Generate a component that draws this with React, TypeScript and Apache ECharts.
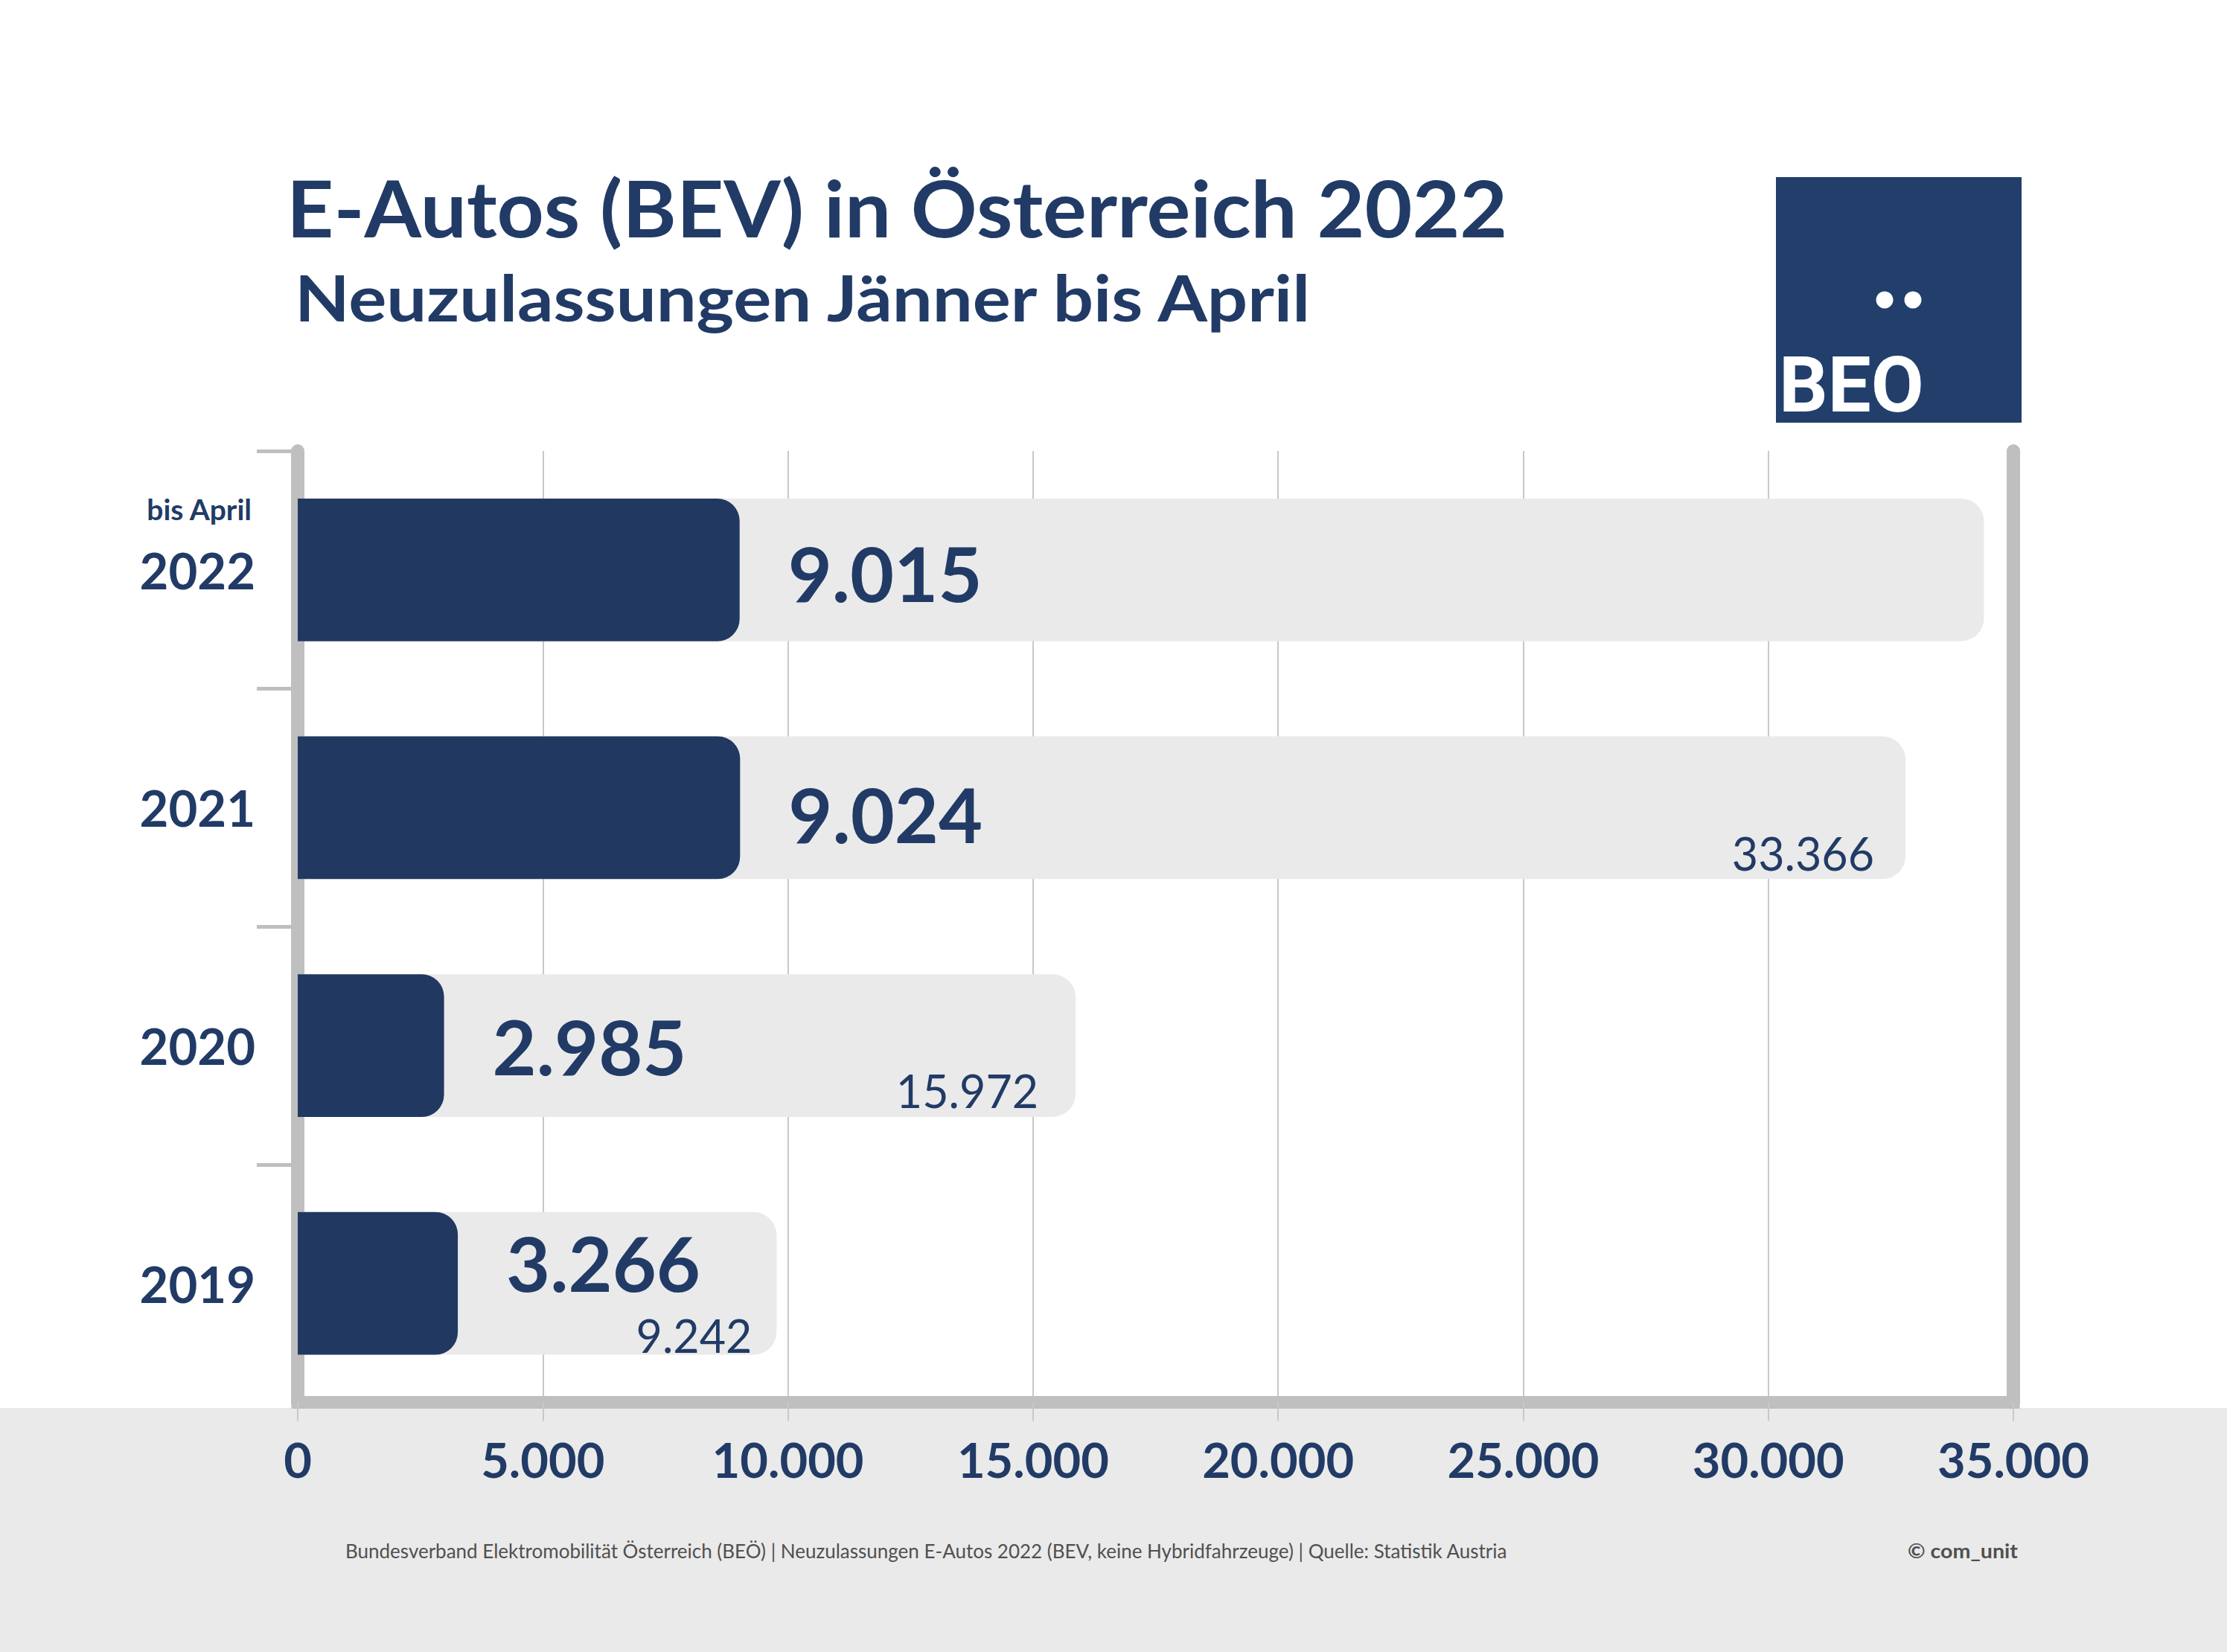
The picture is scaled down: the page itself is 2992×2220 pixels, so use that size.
import React, { useEffect, useRef } from "react";
import * as echarts from "echarts";

// ---- data (bottom to top) ----
const categories = ["2019", "2020", "2021", "2022"];
const categoryNotes: Record<string, string> = { "2022": "bis April" };
const janAprilRegistrations = [3266, 2985, 9024, 9015];
const fullYearLabels: (number | null)[] = [9242, 15972, 33366, null];
const fullYearBarLengths = [9770, 15870, 32800, 34400];
const xMin = 0;
const xMax = 35000;
const xInterval = 5000;

const titleText = "E-Autos (BEV) in Österreich 2022";
const subtitleText = "Neuzulassungen Jänner bis April";
const footnoteText =
  "Bundesverband Elektromobilität Österreich (BEÖ) | Neuzulassungen E-Autos 2022 (BEV, keine Hybridfahrzeuge) | Quelle: Statistik Austria";
const creditText = "© com_unit";
const logoText = "BEO";

// ---- styles ----
const NAVY = "#213b66";
const BAR = "#213961";
const GREYBAR = "#eaeaea";
const FRAME = "#bfbfbf";
const FONT = 'Lato, "Noto Sans", sans-serif';
// per-bar label nudges (px), bottom to top, as placed in the original graphic
const valueLabelDy = [-28, 0, 8, 4];
const totalLabelInset = [33, 50, 42, 46];
const totalLabelDy = [-2, -11, -11, -11];

const fmt = (v: number) =>
  String(Math.round(v)).replace(/\B(?=(\d{3})+(?!\d))/g, ".");

export default function App() {
  const ref = useRef<HTMLDivElement>(null);
  useEffect(() => {
    if (!ref.current) return;
    const chart = echarts.init(ref.current, undefined, { renderer: "svg" });
    const option: any = {
      animation: false,
      backgroundColor: "#ffffff",
      grid: { left: 400, right: 287, top: 606, bottom: 335.5, containLabel: false },
      xAxis: {
        type: "value",
        min: xMin,
        max: xMax,
        interval: xInterval,
        axisLine: { show: true, lineStyle: { color: FRAME, width: 17, cap: "square" } },
        axisTick: { show: true, length: 25, lineStyle: { color: "#c8c8c8", width: 2 } },
        splitLine: { show: true, lineStyle: { color: "#c8c8c8", width: 2 } },
        axisLabel: {
          margin: 44,
          fontSize: 65,
          fontWeight: "bold",
          fontFamily: FONT,
          color: NAVY,
          formatter: (v: number) => fmt(v),
        },
      },
      yAxis: [
        {
          type: "category",
          data: categories,
          position: "left",
          axisLine: { show: true, lineStyle: { color: FRAME, width: 18 } },
          axisTick: {
            show: true,
            length: 55,
            interval: (i: number) => i !== 0,
            lineStyle: { color: FRAME, width: 5 },
          },
          splitLine: { show: false },
          axisLabel: {
            margin: 57,
            formatter: (v: string) =>
              categoryNotes[v]
                ? `{small|${categoryNotes[v]}}\n{big|${v}}\n{pad| }`
                : `{big|${v}}`,
            rich: {
              small: { fontSize: 39, fontWeight: "bold", fontFamily: FONT, color: NAVY, lineHeight: 82, align: "right", padding: [0, 5, 0, 0] },
              big: { fontSize: 67, fontWeight: "bold", fontFamily: FONT, color: NAVY, lineHeight: 82, align: "right" },
              pad: { fontSize: 10, lineHeight: 82 },
            },
          },
        },
        {
          type: "category",
          data: categories,
          position: "right",
          axisLine: { show: true, lineStyle: { color: FRAME, width: 18 } },
          axisTick: { show: false },
          axisLabel: { show: false },
          splitLine: { show: false },
        },
      ],
      series: [
        {
          type: "bar",
          yAxisIndex: 0,
          data: fullYearBarLengths.map((v, i) => ({
            value: v,
            label: { offset: [-totalLabelInset[i], totalLabelDy[i]] },
          })),
          barWidth: "60%",
          barGap: "-100%",
          itemStyle: { color: GREYBAR, borderRadius: [0, 31, 31, 0] },
          label: {
            show: true,
            position: "insideBottomRight",
            distance: 0,
            fontSize: 61,
            lineHeight: 48,
            fontFamily: FONT,
            color: NAVY,
            formatter: (p: any) => {
              const v = fullYearLabels[p.dataIndex];
              return v == null ? "" : fmt(v);
            },
          },
          silent: true,
        },
        {
          type: "bar",
          yAxisIndex: 0,
          data: janAprilRegistrations.map((v, i) => ({
            value: v,
            label: { offset: [0, valueLabelDy[i]] },
          })),
          barWidth: "60%",
          barGap: "-100%",
          itemStyle: { color: BAR, borderRadius: [0, 30, 30, 0] },
          label: {
            show: true,
            position: "right",
            distance: 65,
            fontSize: 102,
            lineHeight: 80,
            fontWeight: "bold",
            fontFamily: FONT,
            color: NAVY,
            formatter: (p: any) => fmt(p.value),
          },
          silent: true,
        },
      ],
      graphic: [
        { type: "rect", z: -1, shape: { x: 0, y: 1892, width: 2992, height: 328 }, style: { fill: "#eaeaea" } },
        {
          type: "text", x: 385, y: 278, scaleX: 1.04,
          style: { text: titleText, x: 0, y: 0, fill: NAVY, fontSize: 106, fontWeight: "bold", fontFamily: FONT, align: "left", verticalAlign: "middle" },
        },
        {
          type: "text", x: 396, y: 398, scaleX: 1.1,
          style: { text: subtitleText, x: 0, y: 0, fill: NAVY, fontSize: 87, fontWeight: "bold", fontFamily: FONT, align: "left", verticalAlign: "middle" },
        },
        {
          type: "text", x: 464, y: 2084, scaleX: 0.963,
          style: { text: footnoteText, x: 0, y: 0, fill: "#505050", fontSize: 27, fontFamily: FONT, align: "left", verticalAlign: "middle" },
        },
        {
          type: "text", x: 2711, y: 2084, scaleX: 1.06,
          style: { text: creditText, x: 0, y: 0, fill: "#505050", fontSize: 27, fontWeight: "bold", fontFamily: FONT, align: "right", verticalAlign: "middle" },
        },
        { type: "rect", shape: { x: 2386, y: 238, width: 330, height: 330 }, style: { fill: "#223f6b" } },
        { type: "circle", shape: { cx: 2532, cy: 403, r: 11.5 }, style: { fill: "#ffffff" } },
        { type: "circle", shape: { cx: 2570, cy: 403, r: 11.5 }, style: { fill: "#ffffff" } },
        {
          type: "text", x: 2390, y: 517,
          style: { text: logoText, x: 0, y: 0, fill: "#ffffff", fontSize: 103, fontWeight: "bold", fontFamily: "Roboto, sans-serif", align: "left", verticalAlign: "middle" },
        },
      ],
    };
    chart.setOption(option);
    return () => chart.dispose();
  }, []);
  return (
    <div
      ref={ref}
      style={{ position: "absolute", left: 0, top: 0, width: 2992, height: 2220 }}
    />
  );
}
